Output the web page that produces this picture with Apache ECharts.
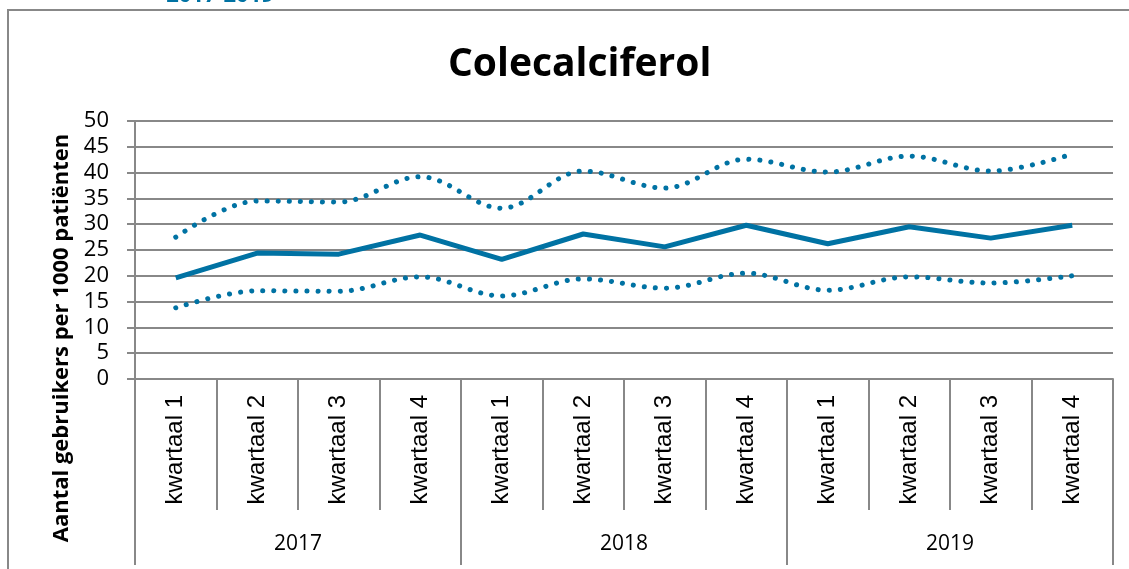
<!DOCTYPE html>
<html>
<head>
<meta charset="utf-8">
<script src="https://cdn.jsdelivr.net/npm/echarts@6/dist/echarts.min.js"></script>
<style>
  html, body { margin: 0; padding: 0; background: #fff; }
  #chart { width: 1129px; height: 569px; }
</style>
</head>
<body>
<div id="chart"></div>
<script>
const quarters = ['kwartaal 1', 'kwartaal 2', 'kwartaal 3', 'kwartaal 4',
  'kwartaal 1', 'kwartaal 2', 'kwartaal 3', 'kwartaal 4',
  'kwartaal 1', 'kwartaal 2', 'kwartaal 3', 'kwartaal 4'];
const years = ['2017', '2018', '2019'];
const gemiddeld = [19.6, 24.4, 24.2, 27.9, 23.2, 28.1, 25.6, 29.8, 26.2, 29.5, 27.3, 29.8];
const bovengrens = [27.5, 34.5, 34.3, 39.2, 33.1, 40.3, 37.0, 42.6, 40.1, 43.2, 40.3, 43.6];
const ondergrens = [13.8, 17.1, 17.0, 19.8, 16.1, 19.4, 17.6, 20.5, 17.2, 19.8, 18.6, 20.0];

const teal = '#0072A3';
const grey = '#888888';

const chart = echarts.init(document.getElementById('chart'));
chart.setOption({
  animation: false,
  graphic: [
    {
      type: 'rect',
      shape: { x: 8, y: 10, width: 1140, height: 620 },
      style: { fill: 'none', stroke: grey, lineWidth: 2 },
    },
    {
      type: 'text', x: 220, y: -4,
      style: { text: '2017-2019', fill: teal, font: 'bold 22px "Open Sans"', align: 'center', verticalAlign: 'middle' },
    },
    {
      type: 'text', x: 62, y: 338, rotation: Math.PI / 2,
      style: { text: 'Aantal gebruikers per 1000 patiënten', fill: '#000', font: 'bold 22px "Open Sans"', align: 'center', verticalAlign: 'middle' },
    },
  ],
  title: {
    text: 'Colecalciferol',
    left: 443,
    top: 40,
    textStyle: { fontFamily: 'Open Sans', fontWeight: 'bold', fontSize: 39, color: '#000' },
  },
  grid: { left: 135, right: 16, top: 121, bottom: 190 },
  xAxis: [
    {
      type: 'category',
      data: quarters,
      boundaryGap: true,
      axisLine: { show: true, lineStyle: { color: grey, width: 2 } },
      axisTick: { show: true, inside: false, interval: 0, length: 131, lineStyle: { color: grey, width: 2 } },
      axisLabel: {
        rotate: 90, interval: 0, color: '#000', fontSize: 24,
        fontFamily: 'Liberation Sans', margin: 16,
      },
    },
    {
      type: 'category',
      data: years,
      position: 'bottom',
      offset: 131,
      boundaryGap: true,
      axisLine: { show: false },
      axisTick: { show: true, inside: false, interval: 0, length: 55, lineStyle: { color: grey, width: 2 } },
      axisLabel: { color: '#000', fontSize: 21, fontFamily: 'Open Sans', margin: 24 },
    },
  ],
  yAxis: {
    type: 'value',
    min: 0,
    max: 50,
    interval: 5,
    axisLine: { show: true, lineStyle: { color: grey, width: 2 } },
    axisTick: { show: true, inside: false, length: 8, lineStyle: { color: grey, width: 2 } },
    axisLabel: { color: '#000', fontSize: 22, fontFamily: 'Open Sans', margin: 26 },
    splitLine: { lineStyle: { color: grey, width: 2 } },
  },
  series: [
    {
      name: 'bovengrens', type: 'line', data: bovengrens, smooth: 0.35, showSymbol: false,
      lineStyle: { color: teal, width: 5, type: [0.1, 11], cap: 'round' },
    },
    {
      name: 'gemiddeld', type: 'line', data: gemiddeld, showSymbol: false,
      lineStyle: { color: teal, width: 5 },
    },
    {
      name: 'ondergrens', type: 'line', data: ondergrens, smooth: 0.35, showSymbol: false,
      lineStyle: { color: teal, width: 5, type: [0.1, 11], cap: 'round' },
    },
  ],
});
</script>
</body>
</html>
